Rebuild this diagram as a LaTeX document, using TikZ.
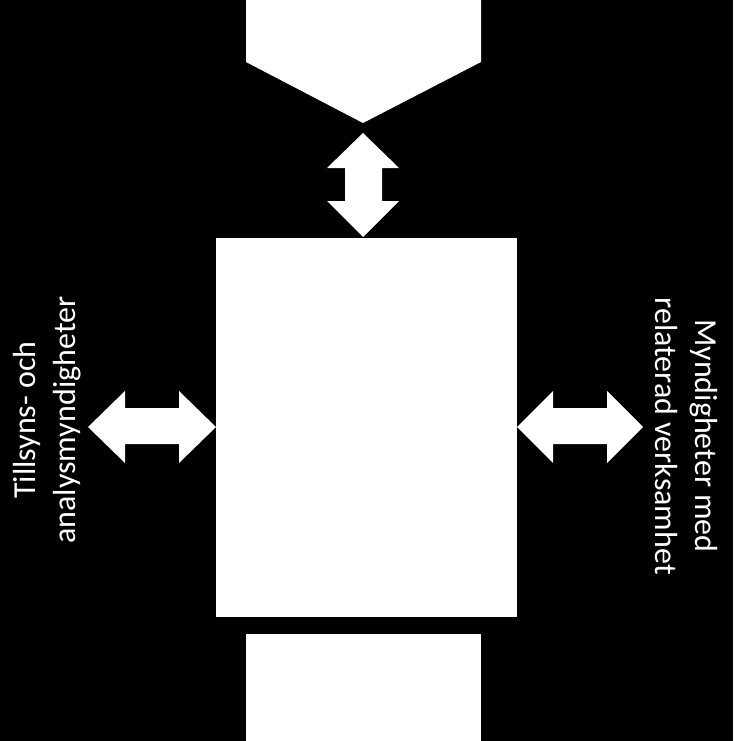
\documentclass[tikz,border=0pt]{standalone}
\usepackage{fontspec}
\setmainfont{Carlito}
\begin{document}
\begin{tikzpicture}[x=1pt,y=-1pt,
  shapefill/.style={fill=white,draw=none},
  box/.style={fill=white,draw=none,inner sep=0,anchor=north west},
  lbl/.style={text=white,font=\fontsize{32}{40}\selectfont,align=center,inner sep=0}]
\useasboundingbox (0,0) rectangle (733,741);
\clip (0,0) rectangle (733,741);
\fill[black] (0,0) rectangle (733,741);
% boxes
\node[box,minimum width=301pt,minimum height=379pt] (mid) at (216,238) {};
\node[box,minimum width=235pt,minimum height=120pt] (bot) at (246,634) {};
\path[shapefill] (246,-5) -- (481,-5) -- (481,62) -- (363,123) -- (246,62) -- cycle;
\coordinate (toptip) at (363,123);
% vertical double arrow
\path[shapefill] (363,133) -- (399,168) -- (382,168) -- (382,201) -- (399,201) -- (363,237)
  -- (327,201) -- (345,201) -- (345,168) -- (327,168) -- cycle;
% left double arrow
\path[shapefill] (88,427) -- (125,391) -- (125,408) -- (179,408) -- (179,391) -- (216,427)
  -- (179,463) -- (179,444) -- (125,444) -- (125,463) -- cycle;
% right double arrow
\path[shapefill] (517,427) -- (553,391) -- (553,408) -- (607,408) -- (607,391) -- (643,427)
  -- (607,463) -- (607,444) -- (553,444) -- (553,463) -- cycle;
% labels
\node[lbl,rotate=90] (lefttext) at (47,420) {Tillsyns- och\\analysmyndigheter};
\node[lbl,rotate=-90] (righttext) at (686,436) {Myndigheter med\\relaterad verksamhet};
\end{tikzpicture}
\end{document}
